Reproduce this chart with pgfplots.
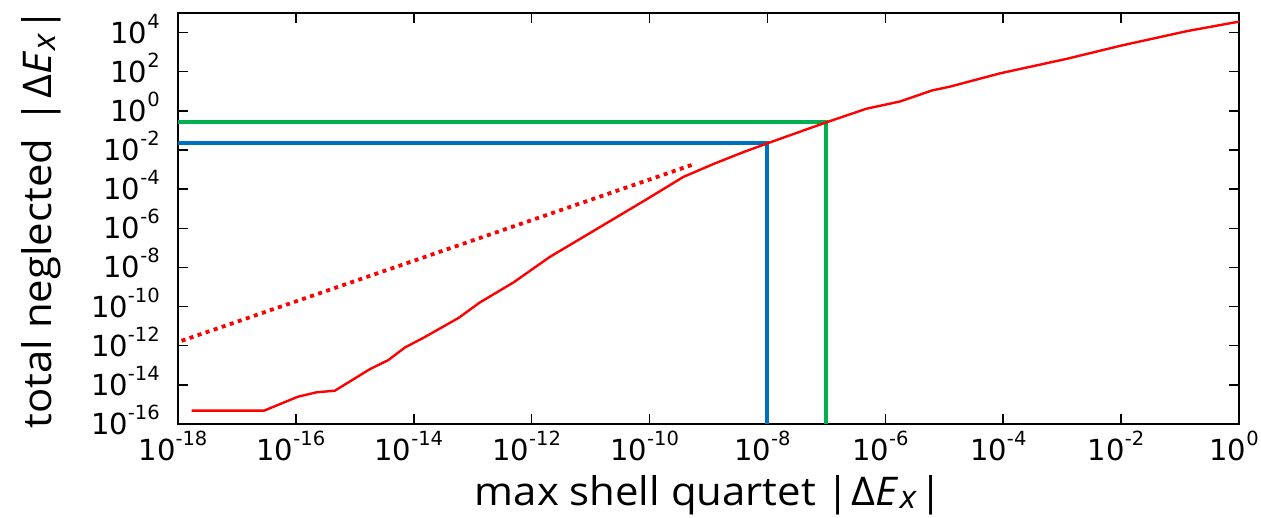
\documentclass[border=0pt]{standalone}
\usepackage{fontspec}
\usepackage{pgfplots}
\pgfplotsset{compat=1.18}
\setmainfont{Open Sans}
\newfontfamily\labfont[FakeStretch=1.06]{Open Sans}
\newfontfamily\dejavu{DejaVu Sans}
\definecolor{myblue}{HTML}{0070C0}
\definecolor{mygreen}{HTML}{00B050}
\newcommand\tl[1]{{\dejavu\fontsize{29bp}{29bp}\selectfont 10\raisebox{15bp}{\fontsize{19.5bp}{19.5bp}\selectfont #1}}}
\newcommand\lab{|\kern2bp Δ\textit{E}\kern1bp\raisebox{-3.5bp}{\fontsize{32bp}{32bp}\selectfont\textit{x}}\kern2bp|}
\begin{document}
\begin{tikzpicture}
\begin{axis}[
  at={(0,0)}, anchor=south west,
  scale only axis, width=1061bp, height=411bp,
  xmode=log, ymode=log,
  xmin=1e-18, xmax=1, ymin=1e-16, ymax=1e5,
  axis line style={line width=2.3bp},
  tick style={line width=1.5bp, black},
  major tick length=10bp,
  tick align=inside,
  xtick={1e-18,1e-16,1e-14,1e-12,1e-10,1e-8,1e-6,1e-4,1e-2,1},
  xticklabels={\tl{-18},\tl{-16},\tl{-14},\tl{-12},\tl{-10},\tl{-8},\tl{-6},\tl{-4},\tl{-2},\tl{0}},
  ytick={1e-16,1e-14,1e-12,1e-10,1e-8,1e-6,1e-4,1e-2,1,1e2,1e4},
  yticklabels={\tl{-16},\tl{-14},\tl{-12},\tl{-10},\tl{-8},\tl{-6},\tl{-4},\tl{-2},\tl{0},\tl{2},\tl{4}},
  minor tick num=0,
  xminorticks=false, yminorticks=false,
  xticklabel style={anchor=base, inner sep=0pt, yshift=-36.7bp, xshift=-5bp},
  yticklabel style={anchor=base east, inner sep=0pt, xshift=-18bp, yshift=-10.5bp},
  xlabel={max shell quartet \lab},
  ylabel={total neglected\ \kern4bp\lab},
  label style={font=\labfont\fontsize{39.5bp}{39.5bp}\selectfont},
  xlabel style={at={(axis description cs:0.5,-0.198)}, anchor=base, inner sep=0pt},
  ylabel style={at={(axis description cs:-0.11876,0.5)}, anchor=base, inner sep=0pt},
]
\addplot[myblue, line width=4bp] coordinates {(1e-18,0.022) (1e-8,0.022) (1e-8,1e-16)};
\addplot[mygreen, line width=4bp] coordinates {(1e-18,0.26) (1e-7,0.26) (1e-7,1e-16)};
\addplot[red, line width=3.8bp, dash pattern=on 4bp off 4.5bp] coordinates {(1.15e-18,1.78e-12) (5.37e-10,1.78e-3)};
\addplot[red, line width=2.4bp] coordinates {
(1.70e-18,4.79e-16)
(2.88e-17,4.79e-16)
(1.07e-16,2.45e-15)
(2.24e-16,4.17e-15)
(4.57e-16,5.01e-15)
(1.82e-15,6.46e-14)
(3.72e-15,1.86e-13)
(7.08e-15,8.13e-13)
(1.45e-14,2.51e-12)
(5.75e-14,2.63e-11)
(1.32e-13,1.62e-10)
(4.90e-13,1.70e-9)
(2.04e-12,3.47e-8)
(8.91e-11,3.02e-5)
(3.72e-10,4.17e-4)
(1.20e-9,1.90e-3)
(3.89e-9,7.76e-3)
(1e-8,2.2e-2)
(1e-7,0.26)
(4.79e-7,1.29)
(1.78e-6,3.02)
(6.17e-6,11.0)
(1.26e-5,17.4)
(8.91e-5,83.2)
(1.20e-3,457)
(1.02e-2,2188)
(0.129,11750)
(1,36300)
};
\end{axis}
\pgfresetboundingbox
\path[use as bounding box] (-178bp,-94bp) rectangle (1083bp,424bp);
\end{tikzpicture}
\end{document}
